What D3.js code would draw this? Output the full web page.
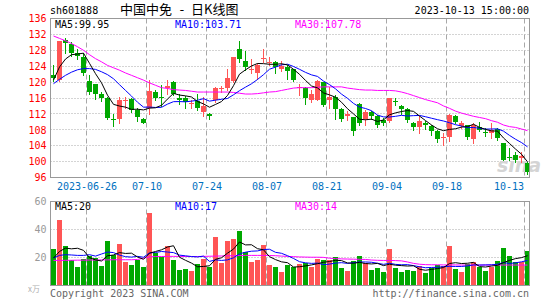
<!DOCTYPE html>
<html>
<head>
<meta charset="utf-8">
<script src="https://cdn.jsdelivr.net/npm/d3@7"></script>
<style>
  body { margin: 0; background: #fff; }
  svg { display: block; }
  text { font-family: "DejaVu Sans Mono", monospace; font-size: 10px; }
</style>
</head>
<body>
<div id="chart"></div>
<script>
// daily k-line data, 2023-06-14 .. 2023-10-13 (80 sessions)
const tickIndex = [6, 16, 26, 36, 46, 56, 66, 79];
const tickLabels = ['2023-06-26', '07-10', '07-24', '08-07', '08-21', '09-04', '09-18', '10-13'];
const priceTicks = [136, 132, 128, 124, 120, 116, 112, 108, 104, 100, 96];
const volTicks = [60, 40, 20];

const open = [121.7, 120.5, 130.7, 129.7, 127.2, 126.3, 120.2, 119.4, 117.0, 116.0,
  110.8, 110.7, 115.3, 115.7, 113.1, 110.7, 113.5, 117.4, 116.3, 118.4,
  120.1, 116.1, 116.1, 114.6, 115.2, 112.5, 112.1, 115.4, 118.3, 118.4,
  120.2, 128.4, 125.3, 123.1, 122.4, 125.9, 125.0, 125.0, 123.2, 123.8,
  123.2, 118.7, 118.6, 115.4, 115.6, 119.9, 115.4, 116.3, 113.2, 111.4,
  111.1, 114.6, 110.8, 112.5, 111.5, 110.4, 110.2, 115.3, 114.0, 113.2,
  109.8, 108.6, 109.6, 109.0, 107.6, 106.1, 106.1, 111.5, 109.0, 109.2,
  105.6, 108.7, 107.5, 107.1, 108.3, 104.6, 101.1, 101.6, 100.8, 99.7];
const high = [124.4, 130.3, 131.2, 130.1, 128.4, 127.4, 121.7, 119.6, 117.5, 116.3,
  112.1, 116.3, 116.3, 115.9, 113.4, 111.0, 120.6, 117.9, 119.2, 120.6,
  120.2, 116.9, 116.5, 115.5, 116.9, 116.3, 112.3, 118.8, 119.1, 123.4,
  126.3, 130.4, 127.8, 125.7, 124.8, 128.3, 126.2, 125.3, 125.3, 124.4,
  123.4, 119.4, 118.8, 118.0, 120.5, 120.1, 118.8, 116.7, 113.4, 112.7,
  111.3, 114.8, 112.9, 112.7, 111.8, 111.0, 116.1, 116.1, 114.2, 113.4,
  110.0, 111.5, 110.2, 109.3, 107.9, 107.2, 112.1, 111.8, 110.2, 109.3,
  109.6, 110.0, 108.5, 109.7, 108.5, 104.7, 103.5, 102.5, 102.3, 100.0];
const low = [120.2, 120.3, 127.3, 126.6, 125.9, 121.8, 116.9, 115.7, 115.2, 110.7,
  109.0, 109.7, 113.4, 112.5, 110.3, 109.6, 112.1, 115.4, 114.0, 117.1,
  116.7, 114.4, 113.5, 113.6, 113.1, 111.5, 110.8, 115.0, 117.4, 118.0,
  120.1, 125.1, 123.0, 122.2, 120.9, 125.1, 124.2, 122.2, 122.8, 120.9,
  120.3, 116.7, 114.6, 115.0, 115.4, 113.9, 113.6, 110.8, 110.2, 110.4,
  106.8, 109.3, 109.3, 110.8, 108.6, 109.2, 110.0, 114.2, 112.1, 110.0,
  107.9, 107.2, 108.2, 106.8, 105.0, 104.1, 105.1, 109.8, 108.5, 105.6,
  104.8, 107.7, 106.5, 106.0, 105.4, 100.4, 100.4, 100.0, 100.0, 96.8];
const close = [121.1, 130.3, 129.9, 127.4, 126.6, 122.2, 117.5, 116.9, 115.9, 111.0,
  110.7, 115.4, 115.5, 113.1, 111.2, 109.8, 117.7, 115.9, 116.2, 119.1,
  116.9, 115.6, 114.9, 114.8, 113.4, 113.9, 111.4, 118.4, 118.4, 121.1,
  126.2, 125.9, 123.8, 123.3, 124.2, 126.0, 125.1, 123.8, 124.0, 122.7,
  120.5, 118.8, 116.1, 117.0, 120.3, 114.2, 116.3, 113.2, 110.7, 112.1,
  107.7, 109.6, 112.5, 111.5, 109.2, 109.6, 116.1, 114.9, 113.2, 110.4,
  108.6, 110.2, 109.2, 107.7, 105.6, 106.2, 111.8, 110.0, 109.8, 106.2,
  109.2, 107.9, 107.4, 107.9, 106.0, 100.5, 101.0, 100.4, 101.4, 97.3];
const volume = [26.2, 46.9, 28.4, 17.9, 13.4, 18.8, 21.2, 20.0, 14.1, 31.9,
  21.9, 29.8, 16.9, 14.8, 18.4, 13.4, 51.9, 23.1, 20.5, 28.4,
  17.9, 11.2, 11.9, 10.5, 15.5, 19.1, 13.4, 34.8, 16.4, 31.9,
  33.4, 39.1, 24.1, 17.1, 17.9, 29.1, 14.8, 13.4, 9.5, 14.8,
  13.4, 15.7, 16.4, 13.4, 19.1, 18.4, 18.4, 20.5, 12.6, 10.5,
  17.6, 21.2, 16.4, 11.2, 12.6, 9.8, 26.2, 12.6, 9.8, 11.2,
  10.5, 14.1, 9.1, 12.6, 14.3, 14.1, 28.4, 11.9, 9.8, 15.5,
  16.9, 13.4, 10.5, 13.4, 17.6, 26.9, 21.2, 16.9, 16.9, 24.8];

const ma5 = [120.5, 123.8, 125.8, 126.9, 127.06, 127.28, 124.72, 122.12, 119.82, 116.7,
  114.4, 113.98, 113.7, 113.14, 113.18, 113.0, 113.46, 113.54, 114.16, 115.74,
  117.16, 116.74, 116.54, 116.26, 115.12, 114.52, 113.68, 114.38, 115.1, 116.64,
  119.1, 122.0, 123.08, 124.06, 124.68, 124.64, 124.48, 124.48, 124.62, 124.32,
  123.22, 121.96, 120.42, 119.02, 118.54, 117.28, 116.78, 116.2, 114.94, 113.3,
  112.0, 110.66, 110.52, 110.68, 110.1, 110.48, 111.78, 112.26, 112.6, 112.84,
  112.64, 111.46, 110.32, 109.22, 108.26, 107.78, 108.1, 108.26, 108.68, 108.8,
  109.4, 108.62, 108.1, 107.72, 107.68, 105.94, 104.56, 103.16, 101.86, 99.95];
const ma10 = [119.6, 120.7, 121.7, 122.5, 123.1, 123.4, 123.4, 123.2, 122.6, 121.88,
  120.84, 119.35, 117.91, 116.48, 114.94, 113.7, 113.72, 113.62, 113.65, 114.46,
  115.08, 115.1, 115.04, 115.21, 115.43, 115.84, 115.21, 115.46, 115.68, 115.88,
  116.81, 117.84, 118.73, 119.58, 120.66, 121.87, 123.24, 123.78, 124.34, 124.5,
  123.93, 123.22, 122.45, 121.82, 121.43, 120.25, 119.37, 118.31, 116.98, 115.92,
  114.64, 113.72, 113.36, 112.81, 111.7, 111.24, 111.22, 111.39, 111.64, 111.47,
  111.56, 111.62, 111.29, 110.91, 110.55, 110.21, 109.78, 109.29, 108.95, 108.53,
  108.59, 108.36, 108.18, 108.2, 108.24, 107.67, 106.59, 105.63, 104.79, 103.71];
const ma30 = [131.6, 131.0, 130.4, 129.7, 128.9, 128.0, 126.9, 125.9, 125.1, 124.2,
  123.6, 123.0, 122.3, 121.7, 121.1, 120.5, 119.8, 119.2, 118.6, 118.4,
  118.1, 118.0, 117.9, 117.7, 117.5, 117.5, 117.5, 117.5, 117.5, 117.5,
  117.4, 117.2, 117.0, 117.0, 117.1, 117.3, 117.5, 117.6, 117.9, 118.2,
  118.5, 118.6, 118.6, 118.6, 118.7, 118.8, 118.8, 118.8, 118.8, 118.5,
  118.3, 118.1, 118.0, 118.0, 117.9, 117.9, 117.9, 117.8, 117.5, 117.1,
  116.6, 116.1, 115.6, 115.2, 114.8, 114.0, 113.4, 112.7, 112.2, 111.8,
  111.4, 111.1, 110.8, 110.3, 109.9, 109.2, 108.8, 108.6, 108.2, 107.78];

const volMa5 = [19.6, 24.3, 26.7, 26.2, 26.6, 25.1, 19.9, 18.3, 17.5, 21.2,
  21.8, 23.5, 22.9, 23.1, 20.4, 18.7, 23.1, 24.3, 25.5, 27.5,
  28.4, 20.2, 18.0, 16.0, 13.4, 13.6, 14.1, 18.7, 19.8, 23.1,
  26.0, 31.1, 29.0, 29.1, 26.3, 25.5, 20.6, 18.5, 16.9, 16.3,
  13.2, 13.4, 14.0, 14.7, 15.6, 16.6, 17.1, 18.0, 17.8, 16.1,
  15.9, 16.5, 15.7, 15.4, 15.8, 14.2, 15.2, 14.5, 14.2, 13.9,
  14.1, 11.6, 10.9, 11.5, 12.1, 12.8, 15.7, 16.3, 15.7, 15.9,
  16.5, 13.5, 13.2, 13.9, 14.4, 16.4, 17.9, 19.2, 19.9, 21.3];
const volMa10 = [19.6, 21.5, 22.0, 21.8, 21.5, 21.5, 22.0, 21.0, 22.5, 23.9,
  23.5, 21.7, 20.6, 20.3, 20.8, 20.2, 23.3, 23.6, 24.3, 23.9,
  23.5, 21.7, 21.2, 20.7, 20.4, 21.0, 17.2, 18.3, 17.9, 18.3,
  19.8, 22.6, 23.8, 24.5, 24.7, 25.7, 25.9, 23.7, 23.0, 21.3,
  19.3, 17.0, 16.2, 15.8, 16.0, 14.9, 15.3, 16.0, 16.3, 15.8,
  16.3, 16.8, 16.8, 16.6, 15.9, 15.1, 15.9, 15.1, 14.8, 14.9,
  14.2, 13.4, 12.7, 12.9, 13.0, 13.5, 13.7, 13.6, 13.6, 14.0,
  14.7, 14.6, 14.7, 14.8, 15.2, 16.4, 15.7, 16.2, 16.9, 17.9];
const volMa30 = [17.9, 17.9, 18.0, 18.0, 18.1, 18.1, 18.2, 18.2, 18.3, 18.3,
  18.4, 18.4, 18.4, 18.4, 18.6, 19.5, 20.5, 20.7, 20.7, 20.8,
  20.8, 20.8, 20.7, 20.7, 20.7, 20.8, 20.9, 21.0, 21.1, 21.2,
  21.3, 21.4, 21.5, 21.5, 21.5, 21.5, 21.4, 21.3, 21.0, 20.8,
  20.6, 20.4, 20.3, 20.2, 20.2, 20.1, 19.5, 19.2, 19.0, 18.9,
  18.8, 18.7, 18.6, 18.2, 18.0, 17.9, 17.9, 17.8, 17.6, 16.8,
  15.8, 15.2, 14.9, 14.8, 14.8, 14.7, 14.7, 14.7, 14.6, 14.6,
  14.6, 14.6, 14.6, 14.6, 14.6, 14.6, 14.6, 14.6, 14.6, 14.6];

const priceLegend = ['MA5:99.95', 'MA10:103.71', 'MA30:107.78'];
const volLegend = ['MA5:20', 'MA10:17', 'MA30:14'];
const maColors = ['#000000', '#0000ff', '#ff00ff'];

const width = 545, height = 300;
const upColor = '#ff5555', downColor = '#00a800';
const gridColor = '#a8a8a8', borderColor = '#999999';

const svg = d3.select('#chart').append('svg')
  .attr('width', width).attr('height', height);

// slot left edge for each session, candle centre is +3
const x = d3.scaleLinear().domain([0, 80]).range([50.5, 530.5]);
const yP = d3.scaleLinear().domain([96, 136]).range([177.5, 18.5]);
const yV = d3.scaleLinear().domain([0, 60]).range([285.5, 201.5]);
const cx = i => x(i) + 3;
const snap = v => Math.round(v - 0.5) + 0.5;

// header
svg.append('text').attr('x', 50).attr('y', 14).text('sh601888');
const cjk = '"Noto Sans CJK SC", sans-serif';
svg.append('text').attr('x', 120).attr('y', 14)
  .style('font-family', cjk).style('font-size', '13px').text('中国中免');
svg.append('text').attr('x', 178).attr('y', 14)
  .style('font-size', '13px').text('-');
svg.append('text').attr('x', 191).attr('y', 14)
  .style('font-family', cjk).style('font-size', '13px').text('日K线图');
svg.append('text').attr('x', 529).attr('y', 14).attr('text-anchor', 'end')
  .text('2023-10-13 15:00:00');

function panelGrid (yScale, gridVals, top, bottom) {
  const g = svg.append('g');
  g.selectAll('.hgrid').data(gridVals).enter().append('line')
    .attr('x1', 50.5).attr('x2', 529.5)
    .attr('y1', d => snap(yScale(d))).attr('y2', d => snap(yScale(d)))
    .attr('stroke', gridColor).attr('stroke-dasharray', '1,2');
  g.selectAll('.vgrid').data(tickIndex).enter().append('line')
    .attr('x1', d => x(d)).attr('x2', d => x(d))
    .attr('y1', top).attr('y2', bottom)
    .attr('stroke', gridColor).attr('stroke-dasharray', '5,3');
}

panelGrid(yP, priceTicks.slice(1, -1), 18.5, 177.5);
panelGrid(yV, [40, 20], 201.5, 285.5);

// sina watermark
svg.append('text').attr('x', 497).attr('y', 172)
  .style('font-family', '"DejaVu Sans", sans-serif').style('font-size', '19px')
  .style('font-style', 'italic').style('font-weight', 'bold')
  .attr('fill', '#d4d4d4').text('sina');

// price axis
const yAxis = svg.append('g').attr('transform', 'translate(50.5,0)')
  .call(d3.axisLeft(yP).tickValues(priceTicks).tickSize(0).tickPadding(4).tickFormat(d3.format('d')));
yAxis.select('.domain').remove();
yAxis.selectAll('text').attr('fill', '#ff0000')
  .style('font-family', '"DejaVu Sans Mono", monospace').style('font-size', '10px');

// date axis
const xAxis = svg.append('g').attr('transform', 'translate(0,177.5)')
  .call(d3.axisBottom(x).tickValues(tickIndex).tickSize(0).tickPadding(5)
    .tickFormat((d, i) => tickLabels[i]));
xAxis.select('.domain').remove();
xAxis.selectAll('text').attr('fill', '#0070c0')
  .style('font-family', '"DejaVu Sans Mono", monospace').style('font-size', '10px');
xAxis.selectAll('.tick').filter(d => d === 79).select('text')
  .attr('text-anchor', 'end').attr('x', -1);

// candles
const idx = d3.range(close.length);
const isUp = i => close[i] >= open[i];
const candles = svg.append('g');
candles.selectAll('.wick').data(idx).enter().append('line')
  .attr('x1', cx).attr('x2', cx)
  .attr('y1', i => Math.round(yP(high[i]))).attr('y2', i => Math.round(yP(low[i])) + 1)
  .attr('stroke', i => isUp(i) ? upColor : downColor);
candles.selectAll('.body').data(idx).enter().append('rect')
  .attr('x', i => x(i) + 0.5).attr('width', 5)
  .attr('y', i => Math.round(yP(Math.max(open[i], close[i]))))
  .attr('height', i => Math.max(1, Math.round(yP(Math.min(open[i], close[i]))) - Math.round(yP(Math.max(open[i], close[i])))))
  .attr('fill', i => isUp(i) ? upColor : downColor);

// volume bars
svg.append('g').selectAll('rect').data(idx).enter().append('rect')
  .attr('x', i => x(i) + 0.5).attr('width', 5)
  .attr('y', i => Math.round(yV(volume[i])))
  .attr('height', i => 285 - Math.round(yV(volume[i])))
  .attr('fill', i => isUp(i) ? upColor : downColor);

// moving averages
const drawLine = function (values, yScale, color) {
  svg.append('path').datum(values)
    .attr('fill', 'none').attr('stroke', color).attr('stroke-width', 1)
    .attr('d', d3.line().x((d, i) => cx(i)).y(d => yScale(d)));
};
[ma30, ma10, ma5].forEach((s, k) => drawLine(s, yP, maColors[2 - k]));
[volMa30, volMa10, volMa5].forEach((s, k) => drawLine(s, yV, maColors[2 - k]));

// panel borders
svg.append('rect').attr('x', 50.5).attr('y', 18.5).attr('width', 479).attr('height', 159)
  .attr('fill', 'none').attr('stroke', borderColor);
svg.append('rect').attr('x', 50.5).attr('y', 201.5).attr('width', 479).attr('height', 84)
  .attr('fill', 'none').attr('stroke', borderColor);

// volume axis
const vAxis = svg.append('g').attr('transform', 'translate(50.5,0)')
  .call(d3.axisLeft(yV).tickValues(volTicks).tickSize(0).tickPadding(4));
vAxis.select('.domain').remove();
vAxis.selectAll('text').attr('fill', '#999999')
  .style('font-family', '"DejaVu Sans Mono", monospace').style('font-size', '10px');

// legends
const legendX = [55, 175, 295];
svg.selectAll('.plegend').data(priceLegend).enter().append('text')
  .attr('x', (d, i) => legendX[i]).attr('y', 28)
  .attr('fill', (d, i) => maColors[i]).text(d => d);
svg.selectAll('.vlegend').data(volLegend).enter().append('text')
  .attr('x', (d, i) => legendX[i]).attr('y', 210)
  .attr('fill', (d, i) => maColors[i]).text(d => d);

// footer
svg.append('text').attr('x', 28).attr('y', 292).attr('fill', '#b0b0b0')
  .style('font-family', '"Noto Sans CJK SC", sans-serif').style('font-size', '8px').text('x万');
svg.append('text').attr('x', 50).attr('y', 297).attr('fill', '#666666')
  .text('Copyright 2023 SINA.COM');
svg.append('text').attr('x', 529).attr('y', 297).attr('fill', '#666666')
  .attr('text-anchor', 'end').text('http://finance.sina.com.cn');
</script>
</body>
</html>
